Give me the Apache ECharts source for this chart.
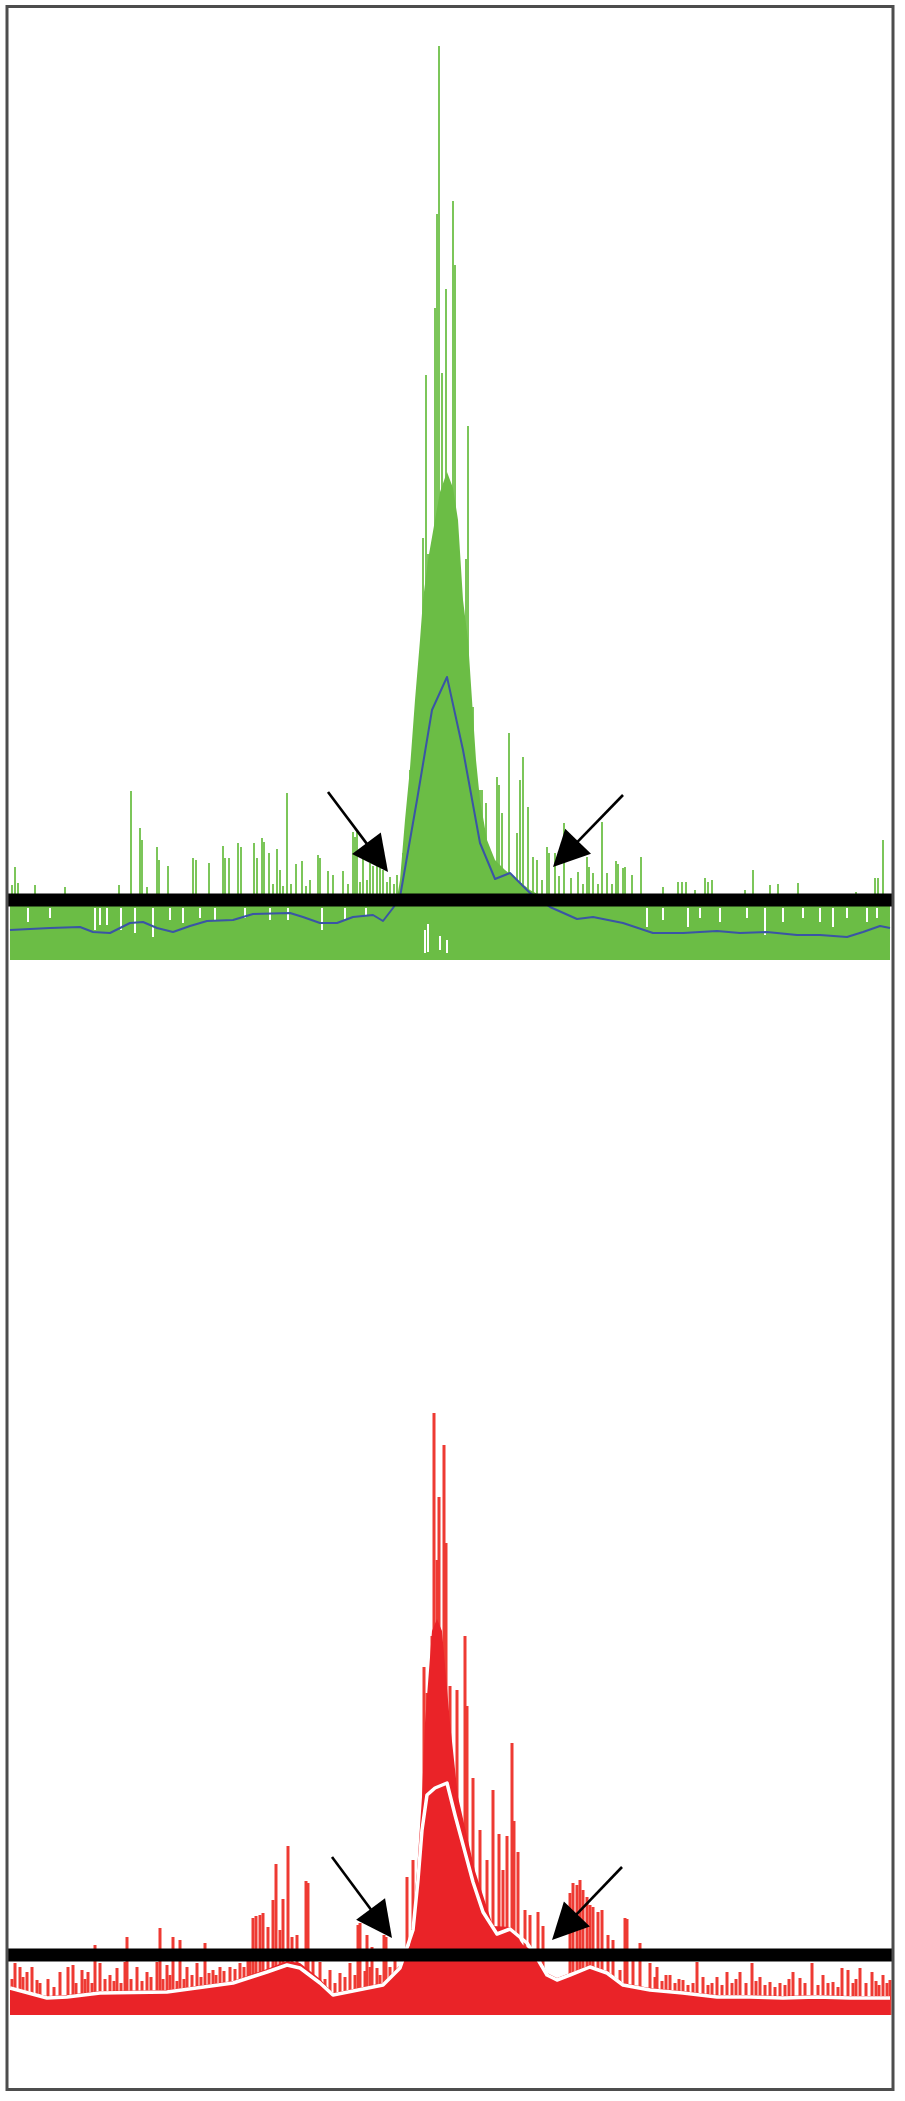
<!DOCTYPE html>
<html>
<head>
<meta charset="utf-8">
<script src="https://cdn.jsdelivr.net/npm/echarts@6/dist/echarts.min.js"></script>
<style>
html,body{margin:0;padding:0;background:#fff;}
#chart{width:905px;height:2101px;}
</style>
</head>
<body>
<div id="chart"></div>
<script>
// ---- data (x = bin position 0..880, y = signal) ----
const threshold = 15;
const xRange = [0, 880];
const yRange = [0, 230];

// top track (green): dense coverage envelope
const greenFloor = [[0,15.5],[385,15.5],[388,17],[390,20],[395,35],[400,48],[405,65],[410,80],[413,90],[418,100],[425,110],[430,117],[437,122],[443,118],[448,110],[453,90],[458,80],[462,65],[466,50],[470,40],[477,30],[485,25],[495,22.5],[505,20.5],[520,17.5],[535,15.5],[880,15.5]];
// top track spikes [x, height]
const greenSpikes = [[2,18.75],[5,23.25],[8,19.25],[25,18.75],[55,18.25],[109,18.75],[121,42.25],[130,33],[132,30],[137,18.25],[147,28.25],[149,25],[158,23.5],[183,25.5],[186,25],[199,24.25],[213,28.5],[215,25.5],[219,25.5],[228,29.25],[231,28.25],[244,29.25],[247,25.5],[252,30.5],[254,29.5],[259,26.75],[263,19],[267,27.75],[270,22.5],[273,18.5],[277,41.75],[281,19],[286,24],[292,24.75],[296,18.5],[300,20],[308,26.25],[310,25.5],[318,22.25],[323,21.25],[333,22.25],[338,19],[343,32],[345,30.75],[347,32],[350,19.5],[353,25.75],[357,20],[360,24.25],[363,23.5],[367,24.25],[370,23],[373,22.5],[377,19.5],[380,20.75],[384,19],[387,21.25],[393,26.75],
[400,47.5],[407,65.75],[413,105.5],[416,146.25],[418,101.5],[420,83],[423,86],[425,163],[427,186.5],[429,228.5],[432,146.75],[436,167.75],[443,189.75],[445,173.75],[447,98.75],[449,94.75],[453,77],[456,100.25],[458,133.5],[463,63.25],
[470,42.5],[472,42.5],[476,39.25],[487,45.75],[489,43.75],[492,36.75],[499,56.75],[507,31.75],[510,45],[513,50.75],[518,38.25],[523,25.75],[527,25],[532,20],[537,28.25],[539,26.75],[545,26.75],[549,21],[554,34.25],[561,20.5],[568,22],[573,19],[577,25.75],[579,23.25],[583,21.75],[588,19],[592,34.5],[597,21.75],[602,19],[606,24.75],[608,24],[613,23],[615,23.25],[622,21.25],[631,25.75],[653,18.25],[668,19.5],[672,19.5],[676,19.5],[685,17.5],[695,20.5],[698,19.5],[702,20],[735,17.5],[743,22.5],[760,18.75],[768,19],[788,19.25],[846,17],[865,20.5],[868,20.5],[873,30]];
// top track low bins (gaps under the floor) [x, low, high]
const greenDips = [[18,9.5,13],[40,10.5,13],[85,7.5,13],[90,8.75,13],[97,8.75,13],[111,7.5,13],[125,6.75,13],[143,5.75,13],[160,10,13],[173,9.25,13],[190,10.5,13],[205,10,13],[235,10.5,13],[260,10,13],[278,10,13],[312,7.5,13],[335,10,13],[356,11.25,13],[415,1.75,7.5],[418,2,9],[430,2.5,6],[437,1.75,5],[637,8.25,13],[653,10,13],[678,8.25,13],[690,10.5,13],[710,9.5,13],[737,10.5,13],[755,6.25,13],[773,9.5,13],[793,10.5,13],[810,9.5,13],[823,8.25,13],[837,10.5,13],[857,9.5,13],[867,10.5,13]];
// top track smoothed mean
const blueMean = [[0,7.5],[40,8],[70,8.25],[83,7],[100,6.75],[120,9.25],[133,9.5],[147,8],[163,7],[180,8.5],[197,9.75],[223,10],[243,11.5],[280,11.75],[293,10.75],[310,9.25],[327,9.25],[343,10.75],[363,11.25],[373,9.75],[383,13],[390,15.75],[407,40],[422,62.5],[437,70.75],[453,52.5],[470,29.25],[485,20.25],[500,21.75],[520,16.75],[540,13.25],[567,10.25],[583,10.75],[613,9.25],[643,6.75],[673,6.75],[707,7.25],[730,6.75],[757,7],[787,6.25],[810,6.25],[837,5.75],[853,7],[870,8.5],[880,8]];

// bottom track (red)
const redFloor = [[0,7],[37,4.75],[57,5],[90,6],[157,6.25],[223,8.5],[257,11.5],[277,13.5],[290,13],[310,9],[323,5.5],[373,8],[390,12.5],[400,17.5],[407,36],[412,54.5],[415,73],[422,96],[427,99],[432,96],[440,73],[448,54.5],[465,36],[483,22.25],[500,22],[513,17.5],[527,15.5],[537,10.5],[547,9.25],[560,10.5],[580,12.5],[597,11],[613,8],[640,6.75],[673,6],[707,5],[740,5],[773,4.75],[807,5],[840,4.75],[880,4.75]];
const redSpikes = [[2,9],[5,13],[10,12],[13,9.5],[17,10.75],[22,12],[27,8.75],[30,8],[38,9],[44,7],[50,10.75],[58,12],[63,12.5],[66,8],[72,11.25],[75,9],[78,10.75],[82,8],[85,17.5],[90,13],[95,9],[100,10],[104,8.5],[107,11.75],[111,8],[115,13.25],[117,19.5],[121,9],[127,12],[132,8.5],[137,10.75],[141,9.5],[147,13.25],[150,21.75],[153,9],[157,12.5],[160,10],[163,19.5],[167,8.5],[170,18.75],[174,9],[177,12],[182,10],[187,13],[191,9.5],[195,18],[199,10.5],[203,11.25],[206,10],[210,12],[214,11],[220,12],[225,11.5],[230,13],[234,12],[238,13.75],[240,14],[243,24.25],[246,24.75],[250,25],[253,25.5],[258,22],[263,28.75],[266,37.75],[270,21.25],[273,29],[278,42.25],[282,19.5],[287,20],[296,33.5],[298,33],[303,16.25],[310,13.25],[315,9],[320,11.25],[325,8],[330,10.5],[335,9.5],[340,13],[345,10],[348,22.5],[350,23],[355,11],[357,20],[360,12],[362,17],[367,11.75],[370,10],[374,20],[376,19.5],[380,12],[385,14],[397,34.5],[403,38.75],
[414,87],[417,80.5],[422,94.75],[424,150.5],[427,113.75],[429,129.5],[434,142.5],[436,118],[440,82.25],[447,81.25],[455,94.75],[457,77.25],[463,59.25],[470,46.25],[477,38.75],[483,56.25],[489,45.25],[493,36.25],[497,44.75],[502,68],[504,48.5],[508,40.75],[515,26.25],[520,25],[528,25.75],[533,22.25],
[560,30.5],[563,33],[567,32.5],[570,33.75],[573,31.25],[577,29.5],[580,27.5],[583,27],[588,25.75],[592,26.25],[598,20],[603,18.75],[610,11.25],[615,24.25],[617,24],[623,13.75],[630,18],[640,13],[645,9.5],[647,12],[652,8.5],[656,10],[660,10],[665,8],[669,9],[673,8.75],[678,7.5],[683,8],[687,13.25],[693,9.5],[698,7.5],[702,8],[707,9.5],[712,7.5],[717,10.75],[722,8],[726,9],[730,10.75],[736,8],[742,13],[746,8.5],[750,9.5],[755,7.5],[760,8.25],[765,7],[770,8],[775,7.5],[779,9],[783,10.75],[790,9.25],[795,8],[802,13],[808,7.5],[813,10],[818,8],[823,8.25],[828,7],[832,11.75],[838,11.25],[843,8],[846,9],[850,11.75],[856,8],[862,10.75],[866,8.5],[869,7.5],[873,10],[877,8],[880,8.75]];
const whiteMean = [[0,6.75],[37,4.25],[57,4.5],[90,5.5],[157,5.75],[223,8],[257,10.75],[277,12.5],[290,11.75],[310,8],[323,5],[373,7.5],[390,11.75],[403,21.25],[408,33.75],[412,46.25],[417,55],[425,56.75],[437,58],[445,50],[452,43.5],[463,33.25],[473,25.75],[487,20.25],[500,21.5],[517,18],[527,14.25],[537,10],[547,8.75],[560,10],[580,12],[597,10.5],[613,7.5],[640,6.25],[673,5.5],[707,4.5],[740,4.5],[773,4.25],[807,4.5],[840,4.25],[880,4.25]];

// annotation arrows [fromX, fromY, toX, toY]
const arrowsTop = [[318,42,378,22],[613,41.25,543,23.25]];
const arrowsBottom = [[322,39.5,382,19.25],[612,37,542,18.75]];

// ---- rendering ----
const chart = echarts.init(document.getElementById('chart'), null, {renderer:'canvas'});

function rangeBar(width, color, hasLow){
  return function(params, api){
    const x = api.value(0);
    const lo = hasLow ? api.value(1) : 0;
    const hi = hasLow ? api.value(2) : api.value(1);
    const p0 = api.coord([x, lo]);
    const p1 = api.coord([x, hi]);
    return {type:'rect', shape:{x:p0[0]-width/2, y:p1[1], width:width, height:p0[1]-p1[1]}, style:{fill:color}};
  };
}
function arrowRender(params, api){
  const a = api.coord([api.value(0), api.value(1)]);
  const b = api.coord([api.value(2), api.value(3)]);
  const dx = b[0]-a[0], dy = b[1]-a[1];
  const len = Math.sqrt(dx*dx+dy*dy);
  const ux = dx/len, uy = dy/len;
  const L = 36, W = 18;
  const bx = b[0]-ux*L, by = b[1]-uy*L;
  return {type:'group', children:[
    {type:'line', shape:{x1:a[0], y1:a[1], x2:bx+ux*4, y2:by+uy*4}, style:{stroke:'#000', lineWidth:2.6}},
    {type:'polygon', shape:{points:[[b[0],b[1]],[bx-uy*W, by+ux*W],[bx+uy*W, by-ux*W]]}, style:{fill:'#000'}}
  ]};
}

function track(idx, floor, spikes, dips, mean, arrows, fill, spikeColor, spikeW, meanColor, meanW){
  const s = [];
  s.push({type:'custom', xAxisIndex:idx, yAxisIndex:idx, data:spikes, encode:{x:0,y:1},
    renderItem:rangeBar(spikeW, spikeColor, false), z:2, silent:true, animation:false});
  s.push({type:'line', xAxisIndex:idx, yAxisIndex:idx, data:floor, showSymbol:false, silent:true,
    lineStyle:{width:0}, areaStyle:{color:fill, opacity:1}, z:3, animation:false});
  if (dips) s.push({type:'custom', xAxisIndex:idx, yAxisIndex:idx, data:dips, encode:{x:0,y:[1,2]},
    renderItem:rangeBar(2, '#ffffff', true), z:4, silent:true, animation:false});
  s.push({type:'line', xAxisIndex:idx, yAxisIndex:idx, data:mean, showSymbol:false, silent:true,
    lineStyle:{width:meanW, color:meanColor, join:'round'}, z:5, animation:false});
  s.push({type:'line', xAxisIndex:idx, yAxisIndex:idx, data:[[xRange[0]-2,threshold],[xRange[1]+2,threshold]],
    showSymbol:false, silent:true, clip:false, lineStyle:{width:13, color:'#000', cap:'butt'}, z:6, animation:false});
  s.push({type:'custom', xAxisIndex:idx, yAxisIndex:idx, data:arrows, encode:{x:[0,2],y:[1,3]},
    renderItem:arrowRender, z:7, silent:true, animation:false});
  return s;
}

const axisX = i => ({type:'value', gridIndex:i, min:xRange[0], max:xRange[1], show:false});
const axisY = i => ({type:'value', gridIndex:i, min:yRange[0], max:yRange[1], show:false});

chart.setOption({
  animation:false,
  backgroundColor:'#ffffff',
  grid:[
    {left:10, width:880, top:40, height:920},
    {left:10, width:880, top:1095, height:920}
  ],
  xAxis:[axisX(0), axisX(1)],
  yAxis:[axisY(0), axisY(1)],
  graphic:[{type:'rect', shape:{x:7, y:6.5, width:886, height:2083}, style:{fill:'none', stroke:'#4d4d4d', lineWidth:3}, z:100, silent:true}],
  series:[
    ...track(0, greenFloor, greenSpikes, greenDips, blueMean, arrowsTop, '#6bbd45', '#7cc65a', 2, '#3a55a5', 2),
    ...track(1, redFloor, redSpikes, null, whiteMean, arrowsBottom, '#ea2328', '#ee3a33', 3, '#ffffff', 3.5)
  ]
});
</script>
</body>
</html>
